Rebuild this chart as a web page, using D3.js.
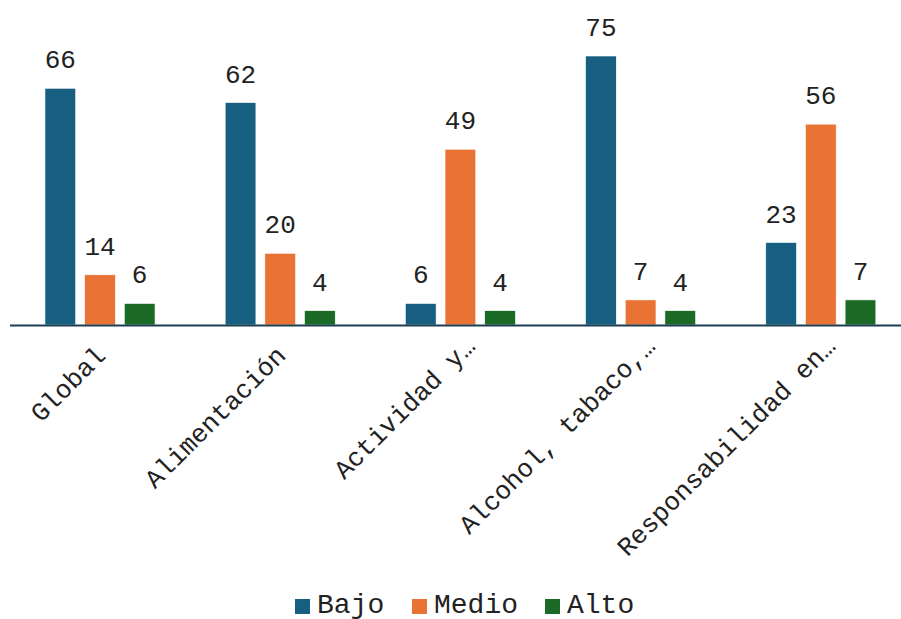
<!DOCTYPE html>
<html>
<head>
<meta charset="utf-8">
<script src="https://cdn.jsdelivr.net/npm/d3@7"></script>
<style>
  body { margin: 0; background: #fff; }
  text { font-family: "Liberation Mono", "DejaVu Sans Mono", monospace; fill: #222; }
</style>
</head>
<body>
<svg id="chart"></svg>
<script>
// categories (as displayed, truncated in the original)
let categories = ['Global', 'Alimentación', 'Actividad y…', 'Alcohol, tabaco,…', 'Responsabilidad en…'];
let seriesNames = ['Bajo', 'Medio', 'Alto'];
let bajo = [66, 62, 6, 75, 23];
let medio = [14, 20, 49, 7, 56];
let alto = [6, 4, 4, 4, 7];
let colors = ['#175f80', '#e97334', '#1b6b27'];

function getConfig() {
  let width = 901;
  let height = 619;
  let baseline = 325;
  let container = d3.select('#chart').attr('width', width).attr('height', height);
  return { width, height, baseline, container };
}

function getScales(config) {
  let xScale = d3.scaleBand()
    .domain(categories)
    .range([10, 911]);
  // position of the three bars inside one category band
  let xInner = d3.scaleBand()
    .domain(seriesNames)
    .range([30, 150])
    .paddingInner(0.225)
    .paddingOuter(0.125);
  let yScale = d3.scaleLinear()
    .domain([0, 75])
    .range([config.baseline, 56]);
  return { xScale, xInner, yScale };
}

function drawBars(config, scales) {
  let { container } = config;
  let { xScale, xInner, yScale } = scales;
  let series = [bajo, medio, alto];
  let rows = [];
  categories.forEach((c, i) => {
    seriesNames.forEach((s, j) => {
      rows.push({ cat: c, name: s, value: series[j][i], color: colors[j] });
    });
  });

  let body = container.append('g');
  body.selectAll('rect').data(rows)
    .enter().append('rect')
    .attr('x', d => xScale(d.cat) + xInner(d.name))
    .attr('width', xInner.bandwidth())
    .attr('y', d => yScale(d.value))
    .attr('height', d => yScale(0) - yScale(d.value))
    .attr('fill', d => d.color)
    .attr('stroke', '#ffffff')
    .attr('stroke-width', 0.6);

  body.selectAll('text.val').data(rows)
    .enter().append('text')
    .attr('class', 'val')
    .attr('x', d => xScale(d.cat) + xInner(d.name) + xInner.bandwidth() / 2)
    .attr('y', d => yScale(d.value) - 20)
    .attr('text-anchor', 'middle')
    .style('font-size', '26px')
    .text(d => d.value);
}

function drawAxis(config, scales) {
  let { container, baseline } = config;
  let { xScale } = scales;
  let axis = d3.axisBottom(xScale).tickSize(0).tickPadding(0);
  let g = container.append('g')
    .attr('transform', `translate(0,${baseline})`)
    .call(axis);
  g.select('.domain').attr('stroke', '#1c3e52').attr('stroke-width', 2).attr('d', 'M10,0.5H901');
  g.selectAll('.tick text')
    .attr('fill', '#222')
    .style('font-size', '26px')
    .style('font-family', '"Liberation Mono", monospace')
    .attr('text-anchor', 'end')
    .attr('y', 0)
    .attr('dy', 0)
    .attr('dx', d => d.endsWith('…') ? 13 : 0)
    .attr('transform', 'translate(7,32) rotate(-45)');
}

function drawLegend(config) {
  let { container } = config;
  let offsets = [295, 412, 545];
  let legend = container.append('g');
  let items = legend.selectAll('g').data(seriesNames)
    .enter().append('g')
    .attr('transform', (d, i) => `translate(${offsets[i]},599)`);
  items.append('rect')
    .attr('width', 15).attr('height', 15)
    .attr('fill', (d, i) => colors[i]);
  items.append('text')
    .attr('x', 22).attr('y', 14)
    .style('font-size', '28px')
    .text(d => d);
}

function drawChart() {
  let config = getConfig();
  let scales = getScales(config);
  drawBars(config, scales);
  drawAxis(config, scales);
  drawLegend(config);
}

drawChart();
</script>
</body>
</html>
